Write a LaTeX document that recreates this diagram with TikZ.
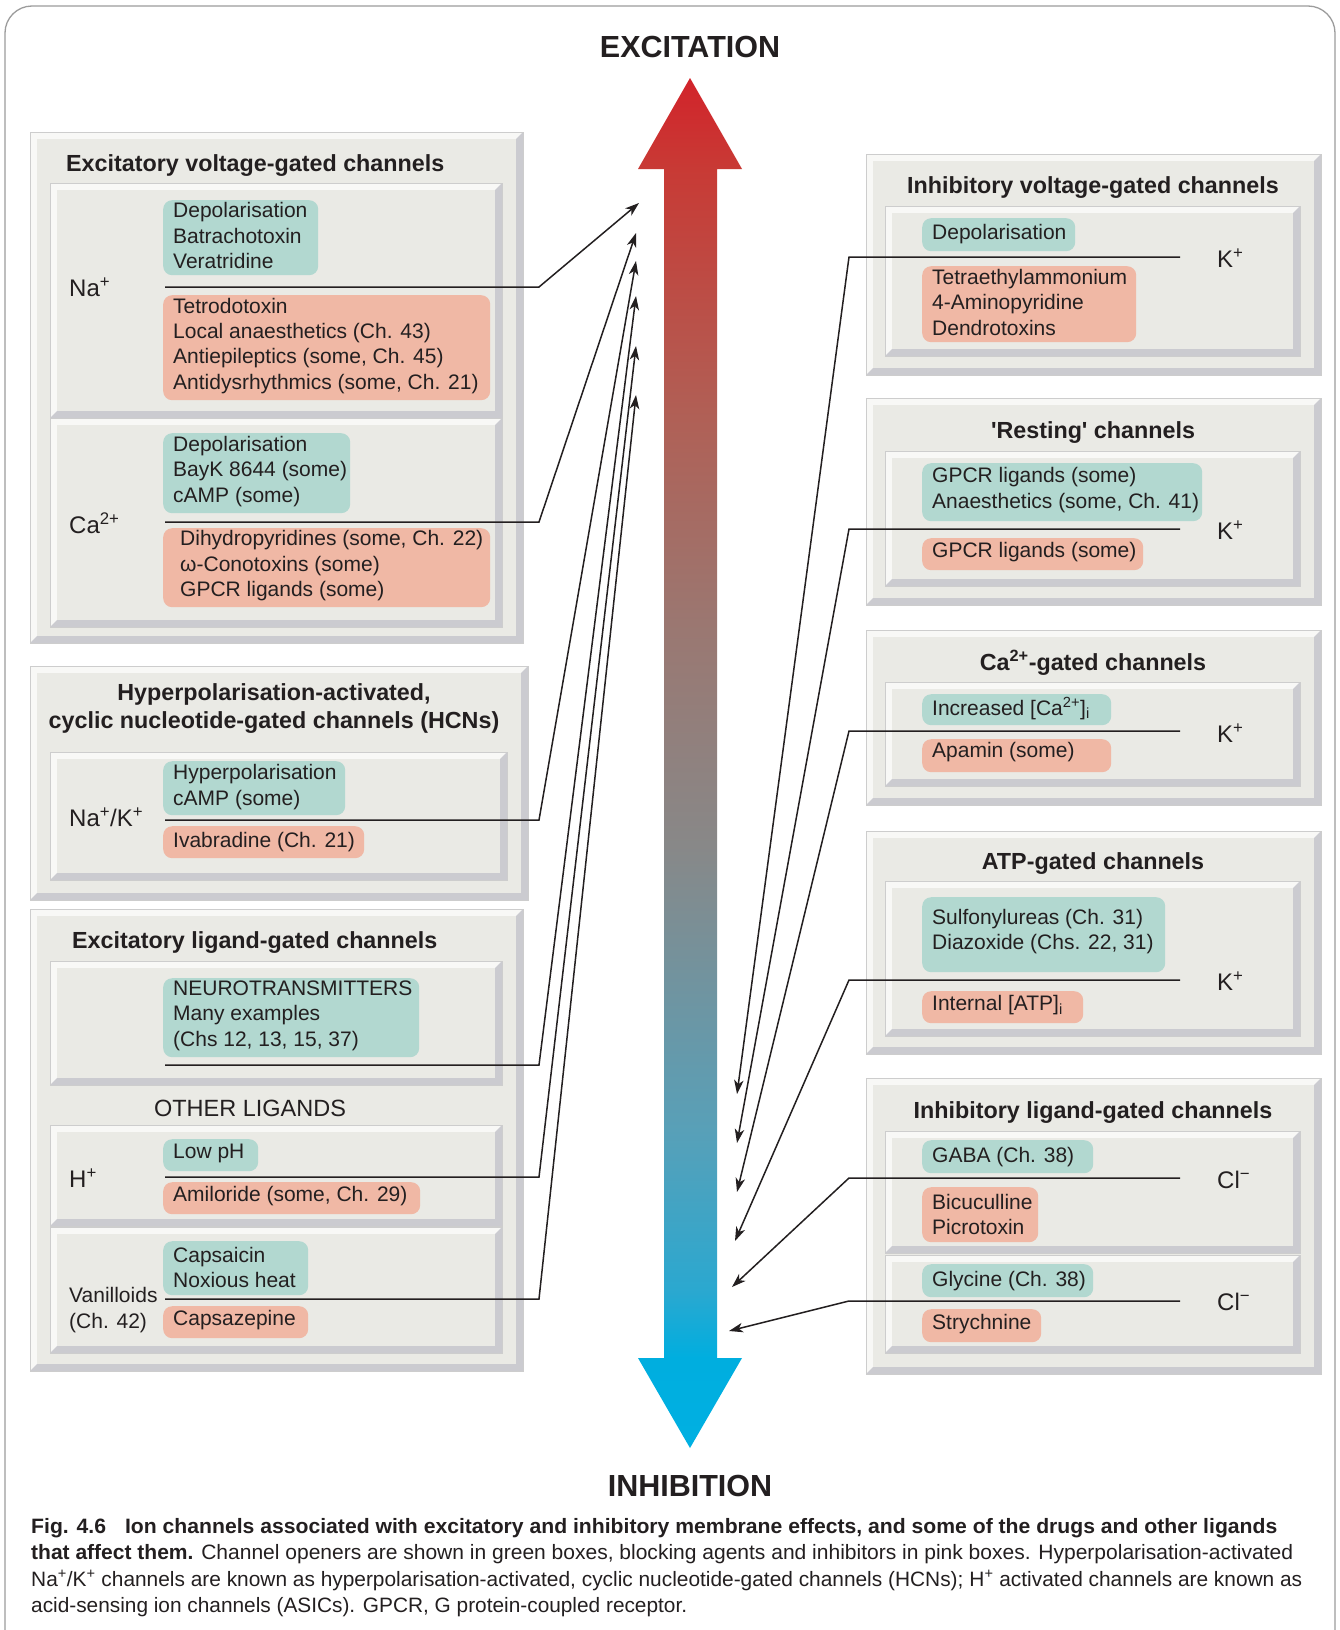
\documentclass[tikz,border=0pt]{standalone}
\usepackage{fontspec}
\setmainfont{Liberation Sans}
\usepackage{graphicx}
\usetikzlibrary{arrows.meta}

\definecolor{ink}{HTML}{231F20}
\definecolor{bvmain}{HTML}{EAEAE5}
\definecolor{bvlight}{HTML}{F8F8F6}
\definecolor{bvdark}{HTML}{CBCBD0}
\definecolor{bvline}{HTML}{CDCDCD}
\definecolor{gfill}{HTML}{B2D8D0}
\definecolor{pfill}{HTML}{F0B8A5}
\definecolor{framec}{HTML}{9C9C9C}
\definecolor{shA}{HTML}{00B0E2}
\definecolor{shB}{HTML}{00AEDF}
\definecolor{shC}{HTML}{2AA8D0}
\definecolor{shD}{HTML}{58A0B8}
\definecolor{shE}{HTML}{888888}
\definecolor{shF}{HTML}{9A7872}
\definecolor{shG}{HTML}{B06056}
\definecolor{shH}{HTML}{C83A35}
\definecolor{shI}{HTML}{D2232A}

\pgfdeclareverticalshading{excinh}{100bp}{color(0bp)=(shA); color(25bp)=(shA); color(28.3bp)=(shB); color(30.7bp)=(shC); color(36.6bp)=(shD); color(47bp)=(shE); color(54.8bp)=(shF); color(62.6bp)=(shG); color(71.7bp)=(shH); color(75bp)=(shI); color(100bp)=(shI)}

\newcommand\bodyfont{\fontsize{21}{25.4}\selectfont}
\newcommand\ttlfont{\fontsize{23.3}{28}\selectfont\bfseries}
\newcommand\ionfont{\fontsize{24}{28}\selectfont}
\newcommand\bigfont{\fontsize{30.5}{36}\selectfont\bfseries}
\newcommand\capfont{\fontsize{20.8}{26}\selectfont}

\newcommand\bevelbox[4]{%
  \fill[bvlight] (#1,#2) rectangle (#3,#4);
  \fill[bvdark] (#3,#2) -- (#3,#4) -- (#1,#4) -- ([xshift=7pt,yshift=7pt]#1,#4) -- ([xshift=-7pt,yshift=7pt]#3,#4) -- ([xshift=-7pt,yshift=-7pt]#3,#2) -- cycle;
  \fill[bvmain] ([xshift=7pt,yshift=-7pt]#1,#2) rectangle ([xshift=-7pt,yshift=7pt]#3,#4);
  \draw[bvline, line width=0.8pt] (#1,#2) rectangle (#3,#4);
}

\begin{document}
\begin{tikzpicture}[x=1pt,y=-1pt,
  cbox/.style={rounded corners=9pt, anchor=north west, inner sep=0pt, draw=none},
  gbox/.style={cbox, fill=gfill},
  pbox/.style={cbox, fill=pfill},
  btxt/.style={anchor=west, align=left, font=\bodyfont, text=ink, inner sep=0pt},
  ttl/.style={font=\ttlfont, text=ink, inner sep=0pt},
  ion/.style={anchor=west, font=\ionfont, text=ink, inner sep=0pt},
  big/.style={font=\bigfont, text=ink, inner sep=0pt},
  capl/.style={anchor=base west, font=\capfont, text=ink, inner sep=0pt},
  conn/.style={draw=ink, line width=1.5pt},
  tip/.style={-{Stealth[length=14pt,width=9.5pt,inset=4pt]}}
]
\useasboundingbox (0,0) rectangle (1339,1630);
\clip (0,0) rectangle (1339,1630);
\fill[white] (0,0) rectangle (1339,1630);

% outer frame
\draw[framec, line width=1.3pt, rounded corners=27pt] (5,6) rectangle (1335,1690);

% ---------------- left boxes
\bevelbox{30}{132}{523}{643}
\bevelbox{50}{183}{502}{418}
\bevelbox{50}{418}{502}{627}
\bevelbox{30}{666}{528}{900}
\bevelbox{50}{752}{507}{880}
\bevelbox{30}{909}{523}{1371}
\bevelbox{50}{961}{502}{1085}
\bevelbox{50}{1125}{502}{1226}
\bevelbox{50}{1227}{502}{1353}
% ---------------- right boxes
\bevelbox{866}{154}{1321}{375}
\bevelbox{885}{206}{1300}{356}
\bevelbox{866}{398}{1321}{605}
\bevelbox{885}{451}{1300}{586}
\bevelbox{866}{630}{1321}{805}
\bevelbox{885}{682}{1300}{786}
\bevelbox{866}{831}{1321}{1054}
\bevelbox{885}{881}{1300}{1036}
\bevelbox{866}{1078}{1321}{1374}
\bevelbox{885}{1131}{1300}{1253}
\bevelbox{885}{1255}{1300}{1353}

% titles
\node[big] (exc) at (690,47.5) {EXCITATION};
\node[big] (inh) at (690,1486) {INHIBITION};
\node[ttl, anchor=west] (tA) at (66,166) {Excitatory voltage-gated channels};
\node[ttl, align=center] (tB) at (274,709) {Hyperpolarisation-activated,\\cyclic nucleotide-gated channels (HCNs)};
\node[ttl, anchor=west] (tC) at (72,943) {Excitatory ligand-gated channels};
\node[font=\fontsize{23.5}{28}\selectfont, text=ink, inner sep=0pt] (other) at (250,1108) {OTHER LIGANDS};
\node[ttl] (tD) at (1093,188) {Inhibitory voltage-gated channels};
\node[ttl] (tE) at (1093,432.5) {\textquotesingle Resting\textquotesingle{} channels};
\node[ttl] (tF) at (1093,662.5) {Ca\textsuperscript{2+}-gated channels};
\node[ttl] (tG) at (1093,864) {ATP-gated channels};
\node[ttl] (tH) at (1093,1113) {Inhibitory ligand-gated channels};

% ---------------- coloured boxes, left
\node[gbox, minimum width=155pt, minimum height=75pt] (g1) at (163,200) {};
\node[btxt] at ([xshift=10pt,yshift=2pt]g1.west) {Depolarisation\\Batrachotoxin\\Veratridine};
\node[pbox, minimum width=327pt, minimum height=105pt] (p1) at (163,295) {};
\node[btxt] at ([xshift=10pt,yshift=2pt]p1.west) {Tetrodotoxin\\Local anaesthetics (Ch. 43)\\Antiepileptics (some, Ch. 45)\\Antidysrhythmics (some, Ch. 21)};
\node[gbox, minimum width=187pt, minimum height=80pt] (g2) at (163,433) {};
\node[btxt] at ([xshift=10pt,yshift=2pt]g2.west) {Depolarisation\\BayK 8644 (some)\\cAMP (some)};
\node[pbox, minimum width=327pt, minimum height=79pt] (p2) at (163,528) {};
\node[btxt] at ([xshift=17pt,yshift=2pt]p2.west) {Dihydropyridines (some, Ch. 22)\\ω-Conotoxins (some)\\GPCR ligands (some)};
\node[gbox, minimum width=182pt, minimum height=54pt] (g3) at (163,761) {};
\node[btxt] at ([xshift=10pt,yshift=1pt]g3.west) {Hyperpolarisation\\cAMP (some)};
\node[pbox, minimum width=201pt, minimum height=32pt] (p3) at (163,826) {};
\node[btxt] at ([xshift=10pt]p3.west) {Ivabradine (Ch. 21)};
\node[gbox, minimum width=256pt, minimum height=79pt] (g4) at (163,978) {};
\node[btxt] at ([xshift=10pt,yshift=2pt]g4.west) {NEUROTRANSMITTERS\\Many examples\\(Chs 12, 13, 15, 37)};
\node[gbox, minimum width=95pt, minimum height=32pt] (g5) at (163,1139) {};
\node[btxt] at ([xshift=10pt,yshift=2pt]g5.west) {Low pH};
\node[pbox, minimum width=257pt, minimum height=32pt] (p5) at (163,1182) {};
\node[btxt] at ([xshift=10pt,yshift=2pt]p5.west) {Amiloride (some, Ch. 29)};
\node[gbox, minimum width=145pt, minimum height=54pt] (g6) at (163,1241) {};
\node[btxt] at ([xshift=10pt,yshift=1pt]g6.west) {Capsaicin\\Noxious heat};
\node[pbox, minimum width=145pt, minimum height=32pt] (p6) at (163,1306) {};
\node[btxt] at ([xshift=10pt,yshift=2pt]p6.west) {Capsazepine};

% ---------------- coloured boxes, right
\node[gbox, minimum width=153pt, minimum height=33pt] (g7) at (922,218) {};
\node[btxt] at ([xshift=10pt,yshift=1pt]g7.west) {Depolarisation};
\node[pbox, minimum width=214pt, minimum height=76pt] (p7) at (922,266) {};
\node[btxt] at ([xshift=10pt,yshift=2pt]p7.west) {Tetraethylammonium\\4-Aminopyridine\\Dendrotoxins};
\node[gbox, minimum width=280pt, minimum height=58pt] (g8) at (922,463) {};
\node[btxt] at ([xshift=10pt,yshift=2pt]g8.west) {GPCR ligands (some)\\Anaesthetics (some, Ch. 41)};
\node[pbox, minimum width=221pt, minimum height=32pt] (p8) at (922,538) {};
\node[btxt] at ([xshift=10pt,yshift=2pt]p8.west) {GPCR ligands (some)};
\node[gbox, minimum width=189pt, minimum height=31pt] (g9) at (922,694) {};
\node[btxt] at ([xshift=10pt,yshift=1pt]g9.west) {Increased [Ca\textsuperscript{2+}]\textsubscript{i}};
\node[pbox, minimum width=189pt, minimum height=33pt] (p9) at (922,739) {};
\node[btxt] at ([xshift=10pt,yshift=4pt]p9.west) {Apamin (some)};
\node[gbox, minimum width=243pt, minimum height=75pt] (g10) at (922,897) {};
\node[btxt] at ([xshift=10pt,yshift=3pt]g10.west) {Sulfonylureas (Ch. 31)\\Diazoxide (Chs. 22, 31)};
\node[pbox, minimum width=161pt, minimum height=32pt] (p10) at (922,991) {};
\node[btxt] at ([xshift=10pt,yshift=2pt]p10.west) {Internal [ATP]\textsubscript{i}};
\node[gbox, minimum width=171pt, minimum height=33pt] (g11) at (922,1140) {};
\node[btxt] at ([xshift=10pt]g11.west) {GABA (Ch. 38)};
\node[pbox, minimum width=116pt, minimum height=55pt] (p11) at (922,1187) {};
\node[btxt] at ([xshift=10pt]p11.west) {Bicuculline\\Picrotoxin};
\node[gbox, minimum width=171pt, minimum height=33pt] (g12) at (922,1264) {};
\node[btxt] at ([xshift=10pt]g12.west) {Glycine (Ch. 38)};
\node[pbox, minimum width=119pt, minimum height=33pt] (p12) at (922,1309) {};
\node[btxt] at ([xshift=10pt,yshift=2pt]p12.west) {Strychnine};

% ---------------- ion labels
\node[ion] (naL) at (69,287) {Na\textsuperscript{+}};
\node[ion] (caL) at (69,523) {Ca\textsuperscript{2+}};
\node[ion] (nakL) at (69,817) {Na\textsuperscript{+}/K\textsuperscript{+}};
\node[ion] (hL) at (69,1178) {H\textsuperscript{+}};
\node[btxt] (vanL) at (69,1310) {Vanilloids\\(Ch. 42)};
\node[ion] (k1L) at (1217,258) {K\textsuperscript{+}};
\node[ion] (k2L) at (1217,530) {K\textsuperscript{+}};
\node[ion] (k3L) at (1217,733) {K\textsuperscript{+}};
\node[ion] (k4L) at (1217,981) {K\textsuperscript{+}};
\node[ion] (cl1L) at (1217,1180) {Cl\textsuperscript{−}};
\node[ion] (cl2L) at (1217,1302) {Cl\textsuperscript{−}};

% ---------------- big double arrow
\shade[shading=excinh] (690,78) -- (742,169) -- (717,169) -- (717,1358) -- (742,1358) -- (690,1448) -- (638,1358) -- (664,1358) -- (664,169) -- (638,169) -- cycle;

% ---------------- connector coordinates
\coordinate (aS1) at (165,287);  \coordinate (aB1) at (539,287);  \coordinate (aT1) at (639,203);
\coordinate (aS2) at (165,522);  \coordinate (aB2) at (539,522);  \coordinate (aT2) at (636,233);
\coordinate (aS3) at (165,820);  \coordinate (aB3) at (539,820);  \coordinate (aT3) at (636,261);
\coordinate (aS4) at (165,1065); \coordinate (aB4) at (539,1065); \coordinate (aT4) at (636,296);
\coordinate (aS5) at (165,1177); \coordinate (aB5) at (539,1177); \coordinate (aT5) at (636,346);
\coordinate (aS6) at (165,1299); \coordinate (aB6) at (539,1299); \coordinate (aT6) at (636,395);

\coordinate (bS1) at (1180,257);  \coordinate (bB1) at (849,257);  \coordinate (bT1) at (737,1094);
\coordinate (bS2) at (1180,529);  \coordinate (bB2) at (849,529);  \coordinate (bT2) at (737,1143);
\coordinate (bS3) at (1180,731);  \coordinate (bB3) at (849,731);  \coordinate (bT3) at (737,1192);
\coordinate (bS4) at (1180,980);  \coordinate (bB4) at (849,980);  \coordinate (bT4) at (735,1241);
\coordinate (bS5) at (1180,1178); \coordinate (bB5) at (849,1178); \coordinate (bT5) at (732,1287);
\coordinate (bS6) at (1180,1301); \coordinate (bB6) at (849,1301); \coordinate (bT6) at (729,1331);

\foreach \i in {1,...,6}{
  \draw[conn, tip] (aS\i) -- (aB\i) -- (aT\i);
  \draw[conn, tip] (bS\i) -- (bB\i) -- (bT\i);
}

% ---------------- caption
\node[capl] (cap1) at (31,1533) {\resizebox{1246pt}{\height}{\bfseries Fig. 4.6\hspace{0.9em}Ion channels associated with excitatory and inhibitory membrane effects, and some of the drugs and other ligands}};
\node[capl] (cap2) at (31,1559.5) {\resizebox{1262pt}{\height}{\textbf{that affect them.} Channel openers are shown in green boxes, blocking agents and inhibitors in pink boxes. Hyperpolarisation-activated}};
\node[capl] (cap3) at (31,1586) {\resizebox{1271pt}{\height}{Na\textsuperscript{+}/K\textsuperscript{+} channels are known as hyperpolarisation-activated, cyclic nucleotide-gated channels (HCNs); H\textsuperscript{+} activated channels are known as}};
\node[capl] (cap4) at (31,1612) {\resizebox{656pt}{\height}{acid-sensing ion channels (ASICs). GPCR, G protein-coupled receptor.}};
\end{tikzpicture}
\end{document}
